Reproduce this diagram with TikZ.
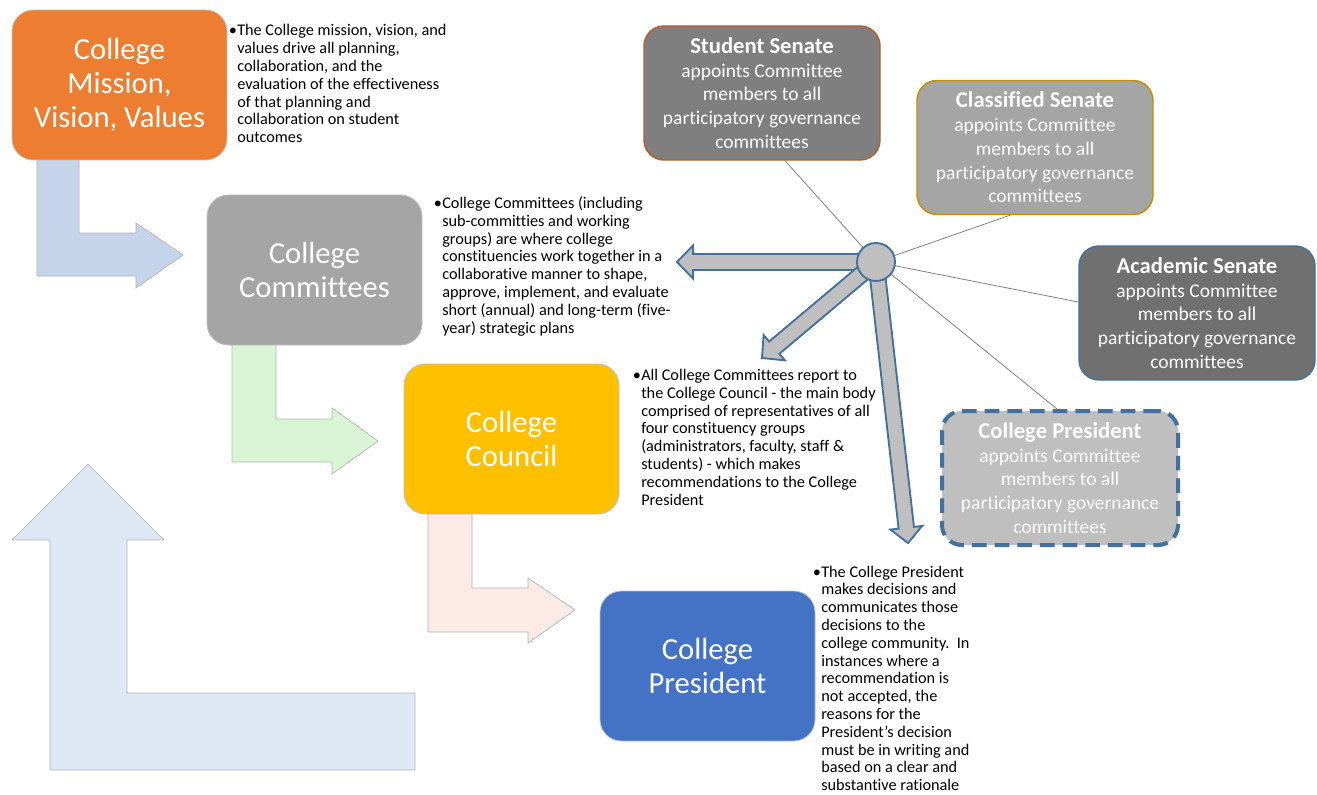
\documentclass[tikz,border=0pt]{standalone}
\usepackage{fontspec}
\setmainfont{Carlito}[Ligatures={TeX,NoCommon}]
\usetikzlibrary{calc}
\definecolor{cOrange}{HTML}{ED7D31}
\definecolor{cGray}{HTML}{A5A5A5}
\definecolor{cGold}{HTML}{FFC000}
\definecolor{cBlue}{HTML}{4472C4}
\definecolor{aBlue}{HTML}{C5D4EA}
\definecolor{aGreen}{HTML}{DAF4D6}
\definecolor{aPink}{HTML}{FBEAE5}
\definecolor{aBig}{HTML}{DDE8F4}
\definecolor{shapeLine}{HTML}{B4B4B4}
\definecolor{sStudent}{HTML}{7F7F7F}
\definecolor{bStudent}{HTML}{B0602A}
\definecolor{bClass}{HTML}{BF9000}
\definecolor{sAcad}{HTML}{707070}
\definecolor{bBlueDark}{HTML}{41719C}
\definecolor{sLight}{HTML}{BFBFBF}
\definecolor{hubLine}{HTML}{808080}
\newcommand\bigtxt{\fontsize{23}{25.5}\selectfont}
\newcommand\bultxt{\fontsize{12.2}{13.35}\selectfont}
\newcommand\sentxt{\fontsize{14.6}{17.8}\selectfont}
\newcommand\sentitle[1]{{\fontsize{17}{17.8}\selectfont\bfseries #1}}
\newcommand\hubarrow[5]{%
  \coordinate (ha-b) at ($(#2)!#5!(#1)$);
  \draw[hubarr] ($(#1)!#3!90:(#2)$) -- ($(ha-b)!#3!90:(#2)$) -- ($(ha-b)!#4!90:(#2)$) -- (#2)
    -- ($(ha-b)!#4!-90:(#2)$) -- ($(ha-b)!#3!-90:(#2)$) -- ($(#1)!#3!-90:(#2)$) -- cycle;
}
\begin{document}
\begin{tikzpicture}[x=0.75pt,y=-0.75pt,
  bentarr/.style={draw=shapeLine, line width=0.5pt},
  mainbox/.style={rounded corners=16pt, minimum width=161.25pt, minimum height=112.5pt,
    inner sep=0pt, draw=sLight, line width=0.6pt, text=white, font=\bigtxt, align=center},
  bultext/.style={anchor=base west, inner sep=0pt, font=\bultxt, text=black},
  senbox/.style={rounded corners=15pt, minimum width=177pt, minimum height=100.5pt,
    inner sep=0pt, text=white, font=\sentxt, align=center, line width=1.1pt},
  hubarr/.style={draw=bBlueDark, fill=sLight, line width=1.4pt, line join=miter},
  hubln/.style={draw=hubLine, line width=0.6pt}]
\useasboundingbox (0,0) rectangle (1317,795);
\fill[white] (0,0) rectangle (1317,795);

% bent arrows
\draw[bentarr, fill=aBig] (88,464) -- (164,540) -- (127,540) -- (127,693) -- (415,693) -- (415,770) -- (50,770) -- (50,540) -- (12,540) -- cycle;
\draw[bentarr, fill=aBlue] (37,150) -- (79,150) -- (79,233) -- (136,233) -- (136,223) -- (183,255) -- (136,288) -- (136,276) -- (37,276) -- cycle;
\draw[bentarr, fill=aGreen] (232,335) -- (276,335) -- (276,419) -- (332,419) -- (332,408) -- (378,441) -- (332,474) -- (332,462) -- (232,462) -- cycle;
\draw[bentarr, fill=aPink] (428,505) -- (472,505) -- (472,588) -- (528,588) -- (528,578) -- (575,610) -- (528,643) -- (528,632) -- (428,632) -- cycle;

% main boxes
\node[mainbox, fill=cOrange] (mission) at (119.5,85) {College\\Mission,\\Vision, Values};
\node[mainbox, fill=cGray] (committees) at (314.5,270) {College\\Committees};
\node[mainbox, fill=cGold] (council) at (511.5,439) {College\\Council};
\node[mainbox, fill=cBlue] (president) at (707.5,666) {College\\President};

% bullet texts
\node[bultext] (tmission) at (237,36) {\begin{tabular}[t]{@{}l@{}}\llap{•\kern0.3pt}The College mission, vision, and\\values drive all planning,\\collaboration, and the\\evaluation of the effectiveness\\of that planning and\\collaboration on student\\outcomes\end{tabular}};
\node[bultext] (tcommittees) at (442,208.5) {\begin{tabular}[t]{@{}l@{}}\llap{•\kern0.3pt}College Committees (including\\sub-committies and working\\groups) are where college\\constituencies work together in a\\collaborative manner to shape,\\approve, implement, and evaluate\\short (annual) and long-term (five-\\year) strategic plans\end{tabular}};
\node[bultext] (tcouncil) at (641,380.5) {\begin{tabular}[t]{@{}l@{}}\llap{•\kern0.3pt}All College Committees report to\\the College Council - the main body\\comprised of representatives of all\\four constituency groups\\(administrators, faculty, staff \&\\students) - which makes\\recommendations to the College\\President\end{tabular}};
\node[bultext] (tpresident) at (821,577) {\begin{tabular}[t]{@{}l@{}}\llap{•\kern0.3pt}The College President\\makes decisions and\\communicates those\\decisions to the\\college community.\ \ In\\instances where a\\recommendation is\\not accepted, the\\reasons for the\\President{\char"0027}s decision\\must be in writing and\\based on a clear and\\substantive rationale\end{tabular}};

% senate boxes
\node[senbox, fill=sStudent, draw=bStudent] (student) at (762,93) {\sentitle{Student Senate}\\appoints Committee\\members to all\\participatory governance\\committees};
\node[senbox, fill=cGray, draw=bClass] (classified) at (1035,147.5) {\sentitle{Classified Senate}\\appoints Committee\\members to all\\participatory governance\\committees};
\node[senbox, fill=sAcad, draw=bBlueDark] (academic) at (1197,313) {\sentitle{Academic Senate}\\appoints Committee\\members to all\\participatory governance\\committees};
\node[senbox, fill=sLight, draw=bBlueDark, line width=3pt, dash pattern=on 11pt off 6pt] (cpres) at (1060,478) {\sentitle{College President}\\appoints Committee\\members to all\\participatory governance\\committees};

% hub
\coordinate (hubc) at (876,262);
\draw[hubln] (hubc) -- ($(student.south)+(23,0)$);
\draw[hubln] (hubc) -- ($(classified.south)+(-25,0)$);
\draw[hubln] (hubc) -- ($(academic.west)+(0,-11)$);
\draw[hubln] (hubc) -- ($(cpres.north)+(-3,0)$);
\coordinate (tipL) at (677,262);
\coordinate (tipD) at (762,358);
\coordinate (tipS) at (908,543);
\hubarrow{hubc}{tipL}{6pt}{12.4pt}{12pt}
\hubarrow{hubc}{tipD}{6pt}{12.4pt}{12pt}
\hubarrow{hubc}{tipS}{5.8pt}{12pt}{11.5pt}
\node[circle, minimum size=28.5pt, inner sep=0pt, draw=bBlueDark, line width=1.4pt, fill=sLight] (hub) at (hubc) {};
\end{tikzpicture}
\end{document}
